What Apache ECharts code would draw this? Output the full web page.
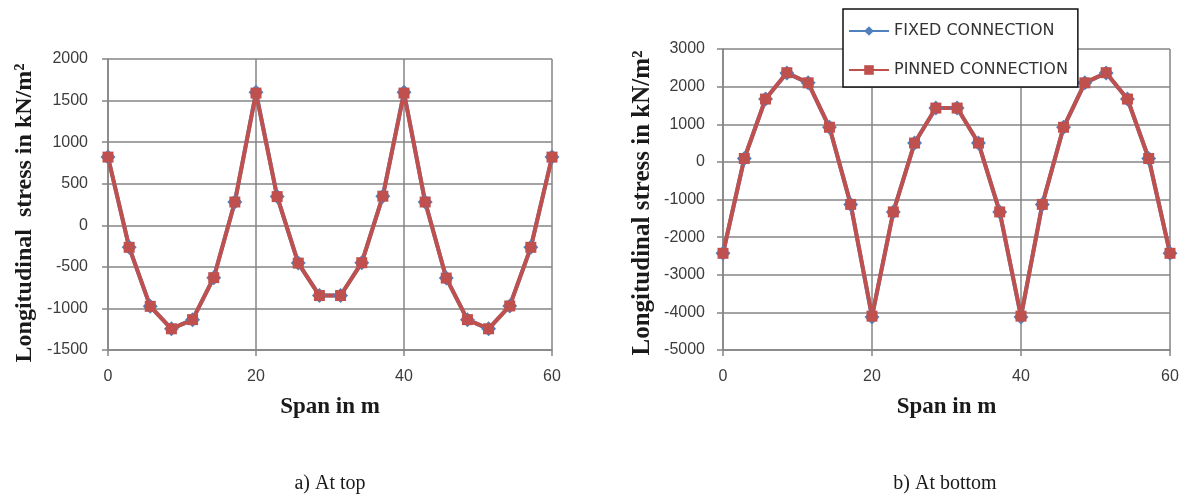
<!DOCTYPE html>
<html>
<head>
<meta charset="utf-8">
<script src="https://cdn.jsdelivr.net/npm/echarts@6/dist/echarts.min.js"></script>
<style>
  html, body { margin: 0; padding: 0; background: #ffffff; }
  #chart { width: 1184px; height: 497px; }
</style>
</head>
<body>
<div id="chart"></div>
<script>
// Span positions along the deck (m)
const spanPositions = [0, 2.86, 5.71, 8.57, 11.43, 14.29, 17.14, 20, 22.86, 25.71, 28.57,
                       31.43, 34.29, 37.14, 40, 42.86, 45.71, 48.57, 51.43, 54.29, 57.14, 60];

// Longitudinal stress at top fibre (kN/m²)
const topFixed  = [820, -265, -975, -1245, -1135, -630, 280, 1600, 345, -455, -845,
                   -845, -450, 350, 1600, 280, -635, -1135, -1245, -970, -265, 820];
const topPinned = [820, -265, -975, -1245, -1135, -630, 280, 1590, 345, -455, -845,
                   -845, -450, 350, 1590, 280, -635, -1135, -1245, -970, -265, 820];

// Longitudinal stress at bottom fibre (kN/m²)
const bottomFixed  = [-2430, 90, 1670, 2360, 2100, 920, -1130, -4120, -1330, 500, 1430,
                      1430, 500, -1330, -4120, -1130, 920, 2100, 2360, 1670, 90, -2430];
const bottomPinned = [-2430, 90, 1670, 2370, 2100, 920, -1130, -4100, -1330, 500, 1430,
                      1430, 500, -1330, -4100, -1130, 920, 2100, 2370, 1670, 90, -2430];

const seriesNames = ['FIXED CONNECTION', 'PINNED CONNECTION'];
const spanTicks = { min: 0, max: 60, interval: 20 };
const topTicks = { min: -1500, max: 2000, interval: 500 };
const bottomTicks = { min: -5000, max: 3000, interval: 1000 };
const yTitle = 'Longitudinal  stress in kN/m²';
const xTitle = 'Span in m';
const captions = ['a) At top', 'b) At bottom'];

const pair = (xs, ys) => xs.map((x, i) => [x, ys[i]]);

const gridColor = '#858585';
const labelColor = '#3c3c3c';
const blue = '#4f81bd';
const red = '#c0504d';

function xAxisCfg(gridIndex) {
  return {
    type: 'value', gridIndex,
    min: spanTicks.min, max: spanTicks.max, interval: spanTicks.interval,
    axisLine: { show: true, onZero: false, lineStyle: { color: gridColor, width: 1.5 } },
    axisTick: { show: true, length: 6, lineStyle: { color: gridColor, width: 1.5 } },
    axisLabel: { color: labelColor, fontFamily: 'Liberation Sans', fontSize: 16, margin: 19,
                 formatter: v => String(v) },
    splitLine: { show: true, lineStyle: { color: gridColor, width: 1.5 } },
    name: xTitle, nameLocation: 'middle', nameGap: 46,
    nameTextStyle: { fontFamily: 'Liberation Serif', fontWeight: 'bold', fontSize: 23, color: '#1a1a1a' }
  };
}

function yAxisCfg(gridIndex, t, margin) {
  return {
    type: 'value', gridIndex,
    min: t.min, max: t.max, interval: t.interval,
    axisLine: { show: true, lineStyle: { color: gridColor, width: 1.5 } },
    axisTick: { show: true, length: 6, lineStyle: { color: gridColor, width: 1.5 } },
    axisLabel: { color: labelColor, fontFamily: 'Liberation Sans', fontSize: 16, margin,
                 formatter: v => String(v) },
    splitLine: { show: true, lineStyle: { color: gridColor, width: 1.5 } }
  };
}

function lineSeries(name, data, idx, color, symbol, size) {
  return {
    name, type: 'line', xAxisIndex: idx, yAxisIndex: idx,
    data, symbol, symbolSize: size, showSymbol: true,
    lineStyle: { color, width: 4 },
    itemStyle: { color },
    emphasis: { disabled: true },
    animation: false
  };
}

const chart = echarts.init(document.getElementById('chart'), null, { renderer: 'canvas' });

chart.setOption({
  backgroundColor: '#ffffff',
  animation: false,
  grid: [
    { left: 108, top: 59, width: 444, height: 291 },
    { left: 723, top: 49, width: 447, height: 301 }
  ],
  xAxis: [xAxisCfg(0), xAxisCfg(1)],
  yAxis: [yAxisCfg(0, topTicks, 20), yAxisCfg(1, bottomTicks, 18)],
  legend: {
    data: seriesNames,
    orient: 'vertical',
    left: 843, top: 9,
    padding: [14, 10, 9, 5],
    itemGap: 23,
    itemWidth: 40, itemHeight: 12,
    borderColor: '#111111', borderWidth: 1.5,
    backgroundColor: '#ffffff',
    textStyle: { fontFamily: 'DejaVu Sans', fontSize: 16, color: '#333333' }
  },
  series: [
    lineSeries(seriesNames[0], pair(spanPositions, topFixed), 0, blue, 'diamond', 15),
    lineSeries(seriesNames[1], pair(spanPositions, topPinned), 0, red, 'rect', 11),
    lineSeries(seriesNames[0], pair(spanPositions, bottomFixed), 1, blue, 'diamond', 15),
    lineSeries(seriesNames[1], pair(spanPositions, bottomPinned), 1, red, 'rect', 11)
  ],
  graphic: [
    {
      type: 'text', x: 25, y: 213, rotation: Math.PI / 2,
      style: { text: yTitle, align: 'center', verticalAlign: 'middle',
               font: 'bold 24px "Liberation Serif"', fill: '#1a1a1a' }
    },
    {
      type: 'text', x: 643, y: 203, rotation: Math.PI / 2,
      style: { text: yTitle.replace('  ', ' '), align: 'center', verticalAlign: 'middle',
               font: 'bold 25px "Liberation Serif"', fill: '#1a1a1a' }
    },
    {
      type: 'text', x: 330, y: 484,
      style: { text: captions[0], align: 'center', verticalAlign: 'middle',
               font: '20px "Liberation Serif"', fill: '#1a1a1a' }
    },
    {
      type: 'text', x: 945, y: 484,
      style: { text: captions[1], align: 'center', verticalAlign: 'middle',
               font: '20px "Liberation Serif"', fill: '#1a1a1a' }
    }
  ]
});
</script>
</body>
</html>
